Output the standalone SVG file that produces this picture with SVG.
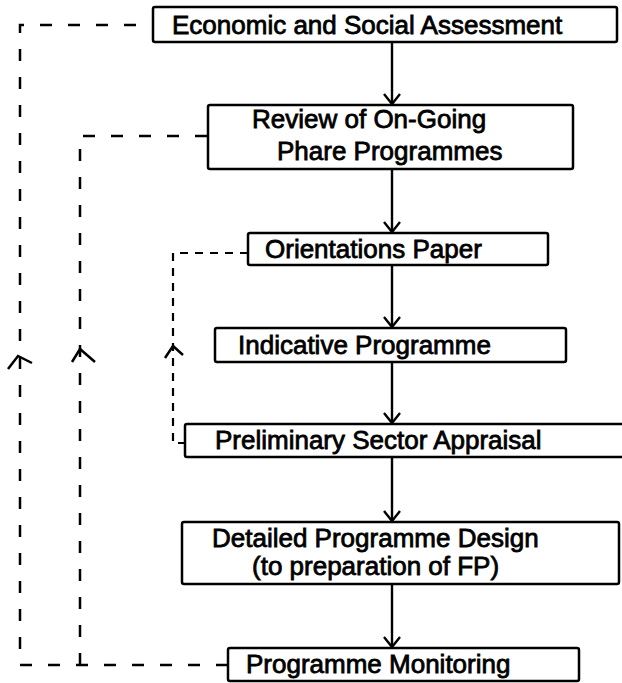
<svg xmlns="http://www.w3.org/2000/svg" width="622" height="683" viewBox="0 0 622 683">
<defs>
<marker id="vd" markerWidth="20" markerHeight="14" refX="10" refY="12" orient="0" markerUnits="userSpaceOnUse" viewBox="0 0 20 14">
<path d="M2,2 L10,12 L18,2" fill="none" stroke="#000" stroke-width="2.4"/>
</marker>
</defs>
<style>
.box{fill:#fff;stroke:#000;stroke-width:2.5}
.t{font-family:"Liberation Sans",Arial,sans-serif;font-size:26px;fill:#000;stroke:#000;stroke-width:0.8}
.arr{stroke:#000;stroke-width:2.4;fill:none;marker-end:url(#vd)}
.dash{stroke:#000;stroke-width:2.5;fill:none;stroke-dasharray:12 16}
.dash2{stroke:#000;stroke-width:2.2;fill:none;stroke-dasharray:8 7}
.caret{stroke:#000;stroke-width:2.5;fill:none}
</style>
<rect width="622" height="683" fill="#fff"/>
<g id="connectors">
<path class="arr" d="M392,42 V104"/>
<path class="arr" d="M392,169 V232"/>
<path class="arr" d="M392,265 V327"/>
<path class="arr" d="M392,362 V423"/>
<path class="arr" d="M392,457 V521"/>
<path class="arr" d="M392,584 V647"/>
<path class="dash" d="M228,665 H20 V25 H153"/>
<path class="dash" d="M80,665 V136 H208"/>
<path class="dash2" d="M186,443 H173 V253 H248"/>
<path class="caret" d="M8,369 L18,356 L32,363"/>
<path class="caret" d="M72,362 L80,349 L95,362"/>
<path class="caret" d="M165,358 L173,346 L183,355"/>
</g>
<g id="n1">
<rect class="box" x="153" y="7" width="464" height="35" rx="2"/>
<text class="t" x="172" y="34">Economic and Social Assessment</text>
</g>
<g id="n2">
<rect class="box" x="208" y="105" width="365" height="64" rx="2"/>
<text class="t" x="252" y="128">Review of On-Going</text>
<text class="t" x="277" y="160">Phare Programmes</text>
</g>
<g id="n3">
<rect class="box" x="248" y="233" width="300" height="32" rx="2"/>
<text class="t" x="265" y="258">Orientations Paper</text>
</g>
<g id="n4">
<rect class="box" x="215" y="328" width="351" height="34" rx="2"/>
<text class="t" x="238" y="354">Indicative Programme</text>
</g>
<g id="n5">
<rect class="box" x="185" y="424" width="440" height="33" rx="2"/>
<text class="t" x="215" y="449">Preliminary Sector Appraisal</text>
</g>
<g id="n6">
<rect class="box" x="182" y="522" width="437" height="62" rx="2"/>
<text class="t" x="212" y="547">Detailed Programme Design</text>
<text class="t" x="252" y="575">(to preparation of FP)</text>
</g>
<g id="n7">
<rect class="box" x="228" y="648" width="351" height="33" rx="2"/>
<text class="t" x="246" y="673">Programme Monitoring</text>
</g>
</svg>
